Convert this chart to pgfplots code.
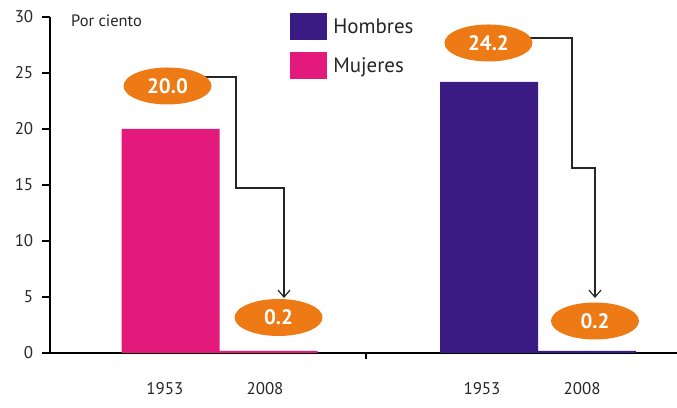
\documentclass[border=0pt]{standalone}
\usepackage{pgfplots}
\pgfplotsset{compat=1.18}
\usepackage{fontspec}
\setmainfont{PT Sans}
\usetikzlibrary{shapes.geometric,arrows.meta,calc}

\definecolor{mujeres}{HTML}{E3197B}
\definecolor{hombres}{HTML}{3A1B84}
\definecolor{callout}{HTML}{EE7A16}

\begin{document}
\begin{tikzpicture}[
  callout/.style={ellipse, fill=callout, text=white, inner sep=0pt,
    minimum width=88bp, minimum height=37bp,
    font=\fontsize{21}{22}\selectfont\bfseries},
  link/.style={line width=1.2bp, black!85,
    -{Straight Barb[length=7bp,width=12bp,line width=1.2bp]}}
]
\begin{axis}[
  scale only axis,
  width=627bp, height=336bp,
  xmin=0, xmax=6.398,
  ymin=0, ymax=30,
  axis lines=left,
  axis line style={-, line width=2bp, black},
  clip=false,
  /pgf/number format/assume math mode=true,
  tick label style={font=\fontsize{17}{20}\selectfont, black!85},
  tick align=outside,
  tick style={draw=black, line width=1.2bp},
  minor tick length=6.5bp,
  ytick={0,5,...,30},
  yticklabel style={xshift=-9bp},
  xtick={1.173,2.194,4.408,5.429},
  xticklabels={1953,2008,1953,2008},
  every major x tick/.append style={draw=none},
  minor xtick={3.224},
  xticklabel style={yshift=-22bp},
  ylabel={Por ciento},
  every axis y label/.style={at={(axis cs:0.18,29.64)}, anchor=west,
    font=\fontsize{16.5}{18}\selectfont, black!85},
  ybar, bar width=1,
  legend style={at={(rel axis cs:0.383,1.012)}, anchor=north west,
    draw=none, fill=none, inner sep=0pt, row sep=12bp,
    font=\fontsize{21}{22}\selectfont, text=black!85,
    cells={anchor=west},
    /tikz/every odd column/.append style={column sep=4bp}},
  legend image code/.code={\fill[#1] (0bp,-13.5bp) rectangle (37bp,13.5bp);},
]
\addplot[fill=hombres, draw=none, bar shift=0pt] coordinates {(4.48,24.2) (5.48,0.2)};
\addplot[fill=mujeres, draw=none, bar shift=0pt] coordinates {(1.23,20.0) (2.23,0.2)};
\legend{Hombres, Mujeres}

\draw[link] (axis cs:1.5,24.64) -- (axis cs:1.898,24.64) -- (axis cs:1.898,14.73)
  -- (axis cs:2.388,14.73) -- (axis cs:2.388,4.91);
\draw[link] (axis cs:4.8,28.125) -- (axis cs:5.327,28.125) -- (axis cs:5.327,16.52)
  -- (axis cs:5.561,16.52) -- (axis cs:5.561,4.91);
\node[callout] at (axis cs:1.199,23.84) {20.0};
\node[callout] at (axis cs:4.474,27.68) {24.2};
\node[callout] at (axis cs:2.332,3.17) {0.2};
\node[callout] at (axis cs:5.561,2.857) {0.2};

\coordinate (ybot) at (axis cs:0,0);
\coordinate (ytop) at (axis cs:0,30);
\coordinate (bbsw) at (axis cs:-0.5102,-4.911);
\coordinate (bbne) at (axis cs:6.398,31.518);
\end{axis}
% y tick marks, one every 5 units
\foreach \i in {0,...,6}
  \draw[line width=1.5bp, black] ($(ybot)!\i/6!(ytop)$) -- ++(-8bp,0);
\pgfresetboundingbox
\useasboundingbox (bbsw) rectangle (bbne);
\end{tikzpicture}
\end{document}
